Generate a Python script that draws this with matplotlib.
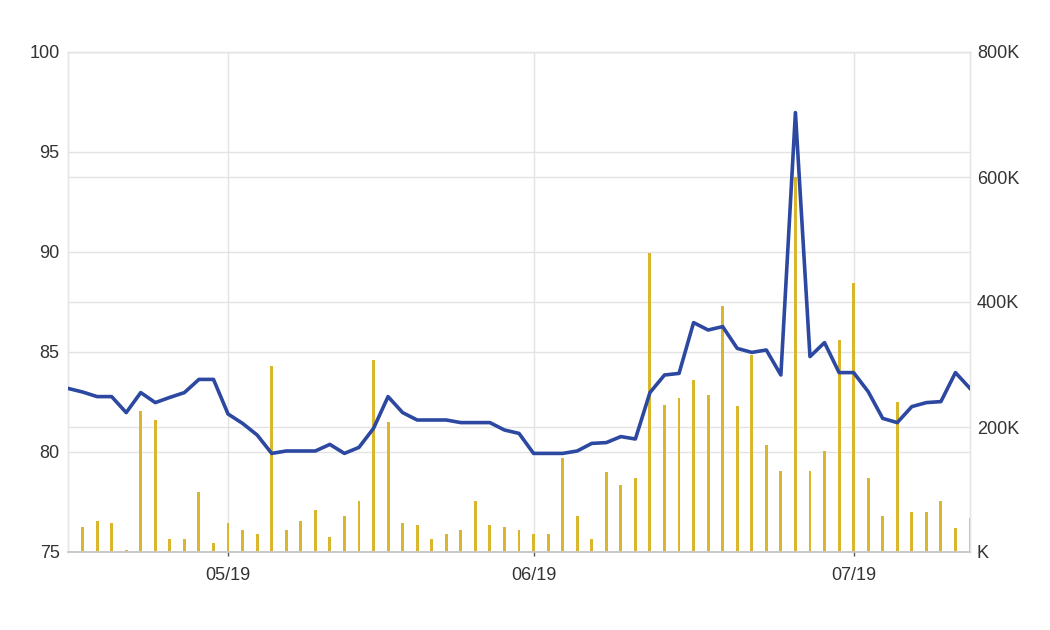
import matplotlib
matplotlib.use("Agg")
import matplotlib.pyplot as plt
from matplotlib.ticker import FuncFormatter, FixedLocator
import numpy as np

plt.rcParams['font.family'] = ['Liberation Sans', 'DejaVu Sans']

# price line (left axis), one value per trading day
price = [83.18, 83.0, 82.77, 82.77, 81.97, 82.97, 82.47, 82.73, 82.97, 83.63,
         83.63, 81.9, 81.43, 80.85, 79.93, 80.05, 80.05, 80.05, 80.38, 79.93,
         80.23, 81.18, 82.77, 81.97, 81.6, 81.6, 81.6, 81.47, 81.47, 81.47,
         81.1, 80.93, 79.93, 79.93, 79.93, 80.05, 80.43, 80.47, 80.77, 80.65,
         82.97, 83.85, 83.93, 86.47, 86.1, 86.27, 85.18, 84.98, 85.1, 83.85,
         96.97, 84.77, 85.47, 83.97, 83.97, 83.02, 81.68, 81.47, 82.27, 82.47,
         82.52, 83.97, 83.18]

# volume bars (right axis), in thousands
volume_k = [0, 39.5, 50, 47, 3, 225.6, 211, 21, 21, 96.5,
            14, 47, 35, 29, 297.6, 35, 50, 68, 24.5, 57.6,
            82, 308, 208.5, 47, 43, 21, 29, 36, 82, 43,
            39.5, 36, 29, 29, 150, 57.6, 21, 128.5, 107, 118,
            478, 236, 247, 276, 251, 393.6, 233.6, 315, 172, 129.6,
            600, 129.6, 161.6, 340, 430, 118, 57.6, 240.5, 64.5, 64.5,
            81.6, 39, 54]

month_tick_idx = [11, 32, 54]
month_tick_labels = ["05/19", "06/19", "07/19"]

left_ticks = [75, 80, 85, 90, 95, 100]
right_ticks_k = [0, 200, 400, 600, 800]

x = np.arange(len(price))
vol = np.array(volume_k) * 1000

fig = plt.figure(figsize=(10.5, 6.3), dpi=100)
ax = fig.add_axes([68/1050, 78/630, 902/1050, 500/630])
ax2 = ax.twinx()

text_color = '#333333'
grid_color = '#e3e3e3'

ymin, ymax = left_ticks[0], left_ticks[-1]
vmax = right_ticks_k[-1] * 1000

# grid lines, all behind the bars (drawn on the lower axes)
for t in right_ticks_k:
    ax2.axhline(t * 1000, color=grid_color, linewidth=1.0, zorder=0)
for t in left_ticks:
    ax2.axhline((t - ymin) / (ymax - ymin) * vmax, color=grid_color, linewidth=1.0, zorder=0)
for t in month_tick_idx:
    ax2.axvline(t, color=grid_color, linewidth=1.0, zorder=0)

# bars on the secondary axis, drawn behind the line
ax2.bar(x, vol, width=0.2, color='#d9b62c', zorder=2)
ax2.set_ylim(0, vmax)
ax2.yaxis.set_major_locator(FixedLocator([t * 1000 for t in right_ticks_k]))
ax2.yaxis.set_major_formatter(FuncFormatter(lambda v, p: f"{int(v/1000)}K" if v > 0 else "K"))

ax.set_zorder(ax2.get_zorder() + 1)
ax.patch.set_visible(False)
ax.plot(x, price, color='#2c48a0', linewidth=2.6, zorder=5, solid_joinstyle='round')
ax.set_ylim(ymin, ymax)
ax.set_yticks(left_ticks)
ax.set_xlim(0, len(price) - 1)
ax.set_xticks(month_tick_idx)
ax.set_xticklabels(month_tick_labels)

for a in (ax, ax2):
    for s in ('top', 'left', 'right'):
        a.spines[s].set_color('#e6e6e6')
        a.spines[s].set_linewidth(1.0)
    a.spines['bottom'].set_color('#c8c8c8')
    a.spines['bottom'].set_linewidth(1.2)

ax.tick_params(axis='y', length=0, labelsize=13, labelcolor=text_color, pad=6)
ax2.tick_params(axis='y', length=0, labelsize=13, labelcolor=text_color, pad=5)
ax.tick_params(axis='x', length=3, width=1, color='#555555', labelsize=13,
               labelcolor=text_color, pad=8)

fig.savefig("out.png", dpi=100, facecolor='white')
